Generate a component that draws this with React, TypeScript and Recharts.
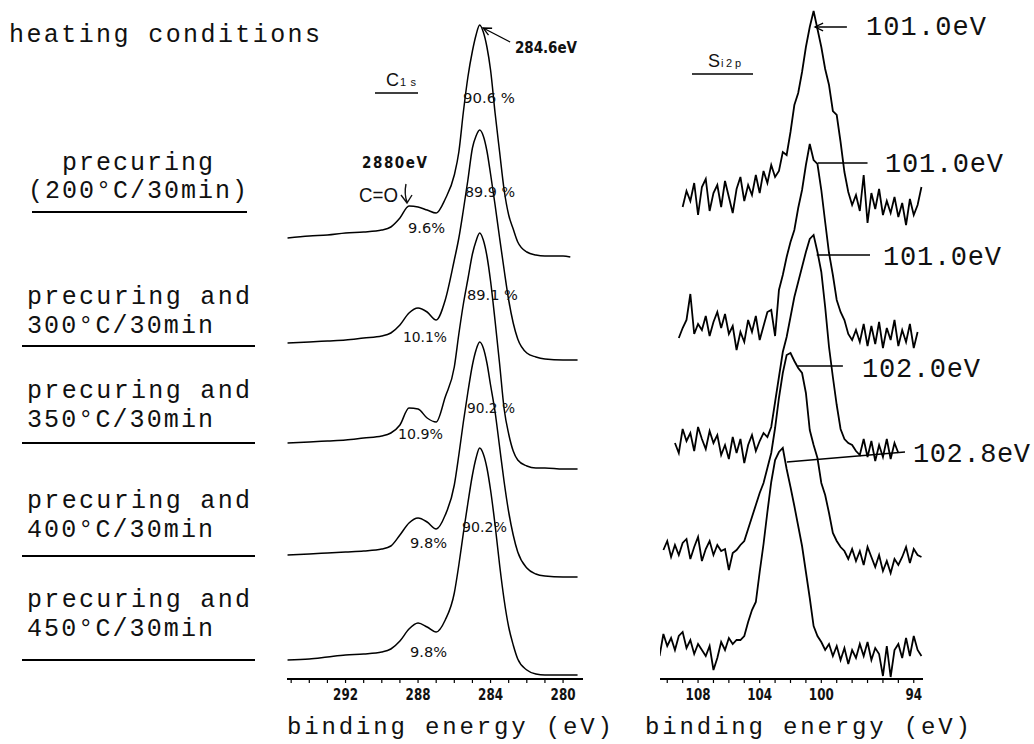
import React from "react";
import { LineChart, Line, XAxis, YAxis, ReferenceLine } from "recharts";

// ---- C1s spectra (binding energy in eV, intensity above each trace's own baseline)
const c1sEnergy = [
  295.2, 294, 293, 292, 291, 290, 289.5, 289, 288.5, 288, 287.5, 287, 286.5, 286, 285.75, 285.5,
  285.25, 285, 284.8, 284.6, 284.4, 284.2, 284, 283.75, 283.5, 283.25, 283, 282.75, 282.5, 282,
  281.5, 281, 280, 279.6, 279.2,
];
const c1s200 = [19, 21, 22, 24, 25, 27, 30, 39, 51, 50, 47, 44, 58, 82, 105, 145, 180, 206, 222, 232, 225, 210, 187, 144, 105, 67, 42, 28, 15, 5, 2, 1, 1, 0, null];
const c1s300 = [17, 18, 19, 20, 22, 24, 27, 35, 47, 52, 48, 40, 60, 100, 122, 150, 180, 212, 224, 230, 224, 209, 186, 155, 122, 90, 60, 37, 21, 7, 3, 1, 0, 0, 0];
const c1s350 = [26, 27, 28, 29, 31, 33, 36, 44, 61, 60, 51, 47, 72, 102, 135, 165, 190, 215, 228, 236, 229, 213, 188, 148, 105, 60, 35, 18, 9, 3, 1, 1, 0, 0, 0];
const c1s400 = [22, 23, 24, 25, 26, 28, 31, 42, 54, 59, 55, 48, 62, 92, 122, 155, 185, 212, 227, 235, 229, 214, 192, 165, 130, 95, 65, 42, 25, 9, 3, 1, 0, 0, 0];
const c1s450 = [15, 16, 18, 20, 21, 23, 26, 34, 46, 52, 48, 43, 55, 82, 110, 142, 172, 200, 217, 227, 221, 207, 185, 150, 110, 75, 48, 30, 16, 5, 1, 0, 0, 0, 0];
const c1sSpectra = [c1s200, c1s300, c1s350, c1s400, c1s450];
const c1sOffsets = [422, 319, 210, 102, 4];
const c1sTicks = [280, 281, 282, 283, 284, 285, 286, 287, 288, 289, 290, 291, 292, 293, 294, 295];
const c1sTickLabels = [292, 288, 284, 280];

// ---- Si2p spectra
const siEnergy = [
  110.5, 110.25, 110, 109.75, 109.5, 109.25, 109, 108.75, 108.5, 108.25, 108, 107.75, 107.5, 107.25,
  107, 106.75, 106.5, 106.25, 106, 105.75, 105.5, 105.25, 105, 104.75, 104.5, 104.25, 104, 103.75,
  103.5, 103.25, 103, 102.75, 102.5, 102.25, 102, 101.75, 101.5, 101.25, 101, 100.75, 100.5, 100.25,
  100, 99.75, 99.5, 99.25, 99, 98.75, 98.5, 98.25, 98, 97.75, 97.5, 97.25, 97, 96.75, 96.5, 96.25,
  96, 95.75, 95.5, 95.25, 95, 94.75, 94.5, 94.25, 94, 93.75, 93.5,
];
const si200 = [
  null, null, null, null, null, null,
  -10, 6, -4, 14, -18, 10, 18, -14, 4, 12, -10, 16, 0, -16, 8, 20, -4, 12, 2, 22, 4, 26, 14, 32, 20, 26,
  45, 42, 65, 92, 104, 125, 150, 170, 186, 168, 150, 128, 112, 86, 82, 55,
  25, 5, -8, 2, -14, 22, -26, 4, -12, 8, -18, -4, -16, 0, -20, -6, -28, -2, -18, -8, 10,
];
const si300 = [
  null, null, null, null, null,
  -8, 2, 10, 36, -4, 6, 0, 14, -6, 8, 18, 2, 16, -4, 4, -20, -2, -12, 10, -2, 14, -10, 4, 18, 20, -6, 40,
  55, 73, 88, 100, 122, 140, 165, 186, 170, 166, 140, 108, 77, 55, 30, 18, 10,
  -4, -10, 0, -12, 6, -16, 4, -14, 8, -18, 2, -10, 10, -16, 0, -12, 6, -18, -2,
  null,
];
const si350 = [
  null, null, null, null,
  4, -6, 18, 6, 14, -4, 20, 8, -2, 16, 4, 12, -8, 2, -12, 10, -6, 8, -16, 2, 12, -4, 6, 14, 10,
  20, 45, 70, 95, 110, 130, 150, 165, 180, 195, 208, 212, 195, 175, 140, 100, 70, 42, 18, 8, 4, 2,
  -4, -8, 8, -10, 6, -14, 2, -10, 8, -12, 4, -6,
  null, null, null, null, null, null,
];
const si400 = [
  null,
  3, 12, -4, 8, -2, 10, 14, -6, 6, 16, -8, 4, 12, -2, 8, 2, 4, -17, 0, 3, 8, 12, 24,
  36, 48, 60, 70, 85, 100, 125, 155, 180, 198, 200, 192, 185, 180, 160, 123, 108, 95, 70, 58, 40, 20, 12, 6, 2,
  -6, 4, -8, 2, -12, 6, -4, -14, -2, -18, -8, -20, -6, -12, -4, 6, -10, 4, -2, -4,
];
const si450 = [
  -4, 18, 6, 14, 2, 16, 20, 4, 12, -2, 8, 2, -4, 6, -18, -6, 10, 2, 14, 8, 12,
  12, 16, 30, 42, 50, 80, 108, 140, 170, 192, 200, 204, 183, 165, 146, 126, 106, 80, 54, 26, 16, 10, 2,
  8, -4, 6, -8, 4, -12, 2, -6, 8, -4, 10, -8, 4, -2, -24, 6, -25, 2, 8, -6, 14, -4, 16, 2, -4,
];
const siSpectra = [si200, si300, si350, si400, si450];
const siOffsets = [482, 349, 232, 126, 27];
const siTicks = [94, 95, 96, 97, 98, 99, 100, 101, 102, 103, 104, 105, 106, 107, 108, 109, 110];
const siTickLabels = [108, 104, 100, 94];

const conditions = [
  ["precuring and", "300°C/30min"],
  ["precuring and", "350°C/30min"],
  ["precuring and", "400°C/30min"],
  ["precuring and", "450°C/30min"],
];

function buildRows(energy: number[], spectra: (number | null)[][], offsets: number[]) {
  return energy.map((e, i) => {
    const row: Record<string, number | null> = { e };
    spectra.forEach((s, k) => {
      const v = s[i];
      row[`s${k}`] = v == null ? null : v + offsets[k];
    });
    return row;
  });
}

const c1sRows = buildRows(c1sEnergy, c1sSpectra, c1sOffsets);
const siRows = buildRows(siEnergy, siSpectra, siOffsets);

const MONO = '"Liberation Mono", "DejaVu Sans Mono", monospace';
const NARROW = '"Liberation Sans Narrow", "DejaVu Sans Condensed", "Liberation Sans", sans-serif';
const SANS = '"Liberation Sans", "DejaVu Sans", sans-serif';

function ArrowShape(p: any) {
  const { x1, y1, x2, y2 } = p;
  const a = Math.atan2(y2 - y1, x2 - x1);
  const L = 9;
  const w = 0.45;
  const ax = x2 - L * Math.cos(a - w);
  const ay = y2 - L * Math.sin(a - w);
  const bx = x2 - L * Math.cos(a + w);
  const by = y2 - L * Math.sin(a + w);
  return (
    <g>
      <line x1={x1} y1={y1} x2={x2} y2={y2} stroke="#000" strokeWidth={1.3} />
      <polyline points={`${ax},${ay} ${x2},${y2} ${bx},${by}`} fill="none" stroke="#000" strokeWidth={1.3} />
    </g>
  );
}

function makeTick(labels: number[]) {
  return (props: any) => {
    const { x, y, payload } = props;
    if (!labels.includes(payload.value)) return <g />;
    const s = String(payload.value);
    return (
      <text
        x={x}
        y={y + 15}
        textAnchor="middle"
        fontFamily={NARROW}
        fontWeight={700}
        fontSize={15}
        fill="#111"
        textLength={s.length * 8.3}
        lengthAdjust="spacingAndGlyphs"
      >
        {s}
      </text>
    );
  };
}

function T({
  x,
  y,
  w,
  size = 25,
  family = MONO,
  weight = 400,
  anchor = "start",
  adjust = "spacing",
  children,
}: {
  x: number;
  y: number;
  w?: number;
  size?: number;
  family?: string;
  weight?: number;
  anchor?: string;
  adjust?: string;
  children: React.ReactNode;
}) {
  return (
    <text
      x={x}
      y={y}
      fontFamily={family}
      fontSize={size}
      fontWeight={weight}
      textAnchor={anchor as any}
      textLength={w}
      lengthAdjust={w ? (adjust as any) : undefined}
      fill="#111"
    >
      {children}
    </text>
  );
}

const axisLine = { stroke: "#000", strokeWidth: 2 };

export default function App() {
  return (
    <div style={{ position: "absolute", left: 0, top: 0, width: 1034, height: 744, background: "#fff", overflow: "hidden" }}>
      {/* C1s panel */}
      <div style={{ position: "absolute", left: 270, top: 0 }}>
        <LineChart width={330} height={744} data={c1sRows} margin={{ top: 10, right: 17, left: 17, bottom: 35 }}>
          <XAxis
            dataKey="e"
            type="number"
            domain={[278.9, 295.23]}
            reversed
            allowDataOverflow
            ticks={c1sTicks}
            interval={0}
            tickSize={4}
            height={30}
            axisLine={axisLine}
            tickLine={{ stroke: "#000", strokeWidth: 1.2 }}
            tick={makeTick(c1sTickLabels)}
          />
          <YAxis hide type="number" domain={[0, 669]} allowDataOverflow />
          {c1sSpectra.map((_, k) => (
            <Line
              key={k}
              dataKey={`s${k}`}
              type="monotone"
              stroke="#000"
              strokeWidth={1.5}
              dot={false}
              isAnimationActive={false}
            />
          ))}
          <ReferenceLine
            segment={[{ x: 282.92, y: 637 }, { x: 284.41, y: 651 }]}
            shape={ArrowShape}
          />
        </LineChart>
      </div>

      {/* Si2p panel */}
      <div style={{ position: "absolute", left: 640, top: 0 }}>
        <LineChart width={300} height={744} data={siRows} margin={{ top: 10, right: 17, left: 20, bottom: 35 }}>
          <XAxis
            dataKey="e"
            type="number"
            domain={[93.4, 110.47]}
            reversed
            allowDataOverflow
            ticks={siTicks}
            interval={0}
            tickSize={4}
            height={30}
            axisLine={axisLine}
            tickLine={{ stroke: "#000", strokeWidth: 1.2 }}
            tick={makeTick(siTickLabels)}
          />
          <YAxis hide type="number" domain={[0, 669]} allowDataOverflow />
          {siSpectra.map((_, k) => (
            <Line
              key={k}
              dataKey={`s${k}`}
              type="linear"
              stroke="#000"
              strokeWidth={1.8}
              dot={false}
              isAnimationActive={false}
            />
          ))}
          <ReferenceLine segment={[{ x: 98.34, y: 652 }, { x: 100.41, y: 652 }]} shape={ArrowShape} />
          <ReferenceLine segment={[{ x: 100.23, y: 516 }, { x: 97.0, y: 516 }]} stroke="#000" strokeWidth={1.3} />
          <ReferenceLine segment={[{ x: 100.3, y: 424 }, { x: 96.84, y: 424 }]} stroke="#000" strokeWidth={1.3} />
          <ReferenceLine segment={[{ x: 101.52, y: 313 }, { x: 98.6, y: 313 }]} stroke="#000" strokeWidth={1.3} />
          <ReferenceLine segment={[{ x: 102.23, y: 217 }, { x: 94.57, y: 227 }]} stroke="#000" strokeWidth={1.3} />
        </LineChart>
      </div>

      {/* text and decorations */}
      <svg width={1034} height={744} style={{ position: "absolute", left: 0, top: 0, pointerEvents: "none" }}>
        <T x={9} y={42} w={311}>heating conditions</T>
        <T x={62} y={170} w={151}>precuring</T>
        <T x={28} y={198} w={219}>(200°C/30min)</T>
        <line x1={32} y1={212} x2={247} y2={212} stroke="#000" strokeWidth={2} />
        {conditions.map(([a, b], i) => {
          const base = [304, 398, 508, 607][i];
          const under = [346, 443, 556, 660][i];
          return (
            <g key={i}>
              <T x={27} y={base} w={223}>{a}</T>
              <T x={27} y={base + 29} w={186}>{b}</T>
              <line x1={22} y1={under} x2={255} y2={under} stroke="#000" strokeWidth={2} />
            </g>
          );
        })}

        <T x={287} y={734} size={24} w={325}>binding energy (eV)</T>
        <T x={645} y={734} size={24} w={325}>binding energy (eV)</T>

        {/* C1s annotations */}
        <T x={386} y={86} size={18} family={SANS}>C</T>
        <T x={400} y={86} size={11} family={SANS} w={16}>1s</T>
        <line x1={375} y1={93} x2={418} y2={93} stroke="#000" strokeWidth={1.5} />
        <T x={362} y={168} size={15} family={NARROW} weight={600} w={65} adjust="spacing">2880eV</T>
        <T x={359} y={202} size={21} family={SANS} w={39} adjust="spacingAndGlyphs">C=O</T>
        <path d="M406 184 Q404 194 407 202 M401 195 L407 203 L412 195" fill="none" stroke="#111" strokeWidth={1.4} />
        <T x={515} y={53} size={15} family={NARROW} weight={600} w={62} adjust="spacing">284.6eV</T>

        <T x={463} y={103} size={14} family={NARROW} w={52} adjust="spacingAndGlyphs">90.6 %</T>
        <T x={465} y={197} size={14} family={NARROW} w={50} adjust="spacingAndGlyphs">89.9 %</T>
        <T x={467} y={300} size={14} family={NARROW} w={51} adjust="spacingAndGlyphs">89.1 %</T>
        <T x={467} y={413} size={14} family={NARROW} w={48} adjust="spacingAndGlyphs">90.2 %</T>
        <T x={462} y={532} size={14} family={NARROW} w={45} adjust="spacingAndGlyphs">90.2%</T>
        <T x={408} y={233} size={14} family={NARROW} w={37} adjust="spacingAndGlyphs">9.6%</T>
        <T x={403} y={342} size={14} family={NARROW} w={44} adjust="spacingAndGlyphs">10.1%</T>
        <T x={398} y={439} size={14} family={NARROW} w={45} adjust="spacingAndGlyphs">10.9%</T>
        <T x={410} y={548} size={14} family={NARROW} w={37} adjust="spacingAndGlyphs">9.8%</T>
        <T x={410} y={657} size={14} family={NARROW} w={37} adjust="spacingAndGlyphs">9.8%</T>

        {/* Si2p annotations */}
        <T x={708} y={67} size={18} family={SANS}>S</T>
        <T x={721} y={67} size={11} family={SANS} w={20}>i2p</T>
        <line x1={692} y1={74} x2={753} y2={74} stroke="#000" strokeWidth={1.5} />
        <T x={866} y={35} size={27} w={120}>101.0eV</T>
        <T x={885} y={172} size={27} w={118}>101.0eV</T>
        <T x={883} y={265} size={27} w={118}>101.0eV</T>
        <T x={862} y={377} size={27} w={118}>102.0eV</T>
        <T x={913} y={462} size={27} w={117}>102.8eV</T>
      </svg>
    </div>
  );
}
